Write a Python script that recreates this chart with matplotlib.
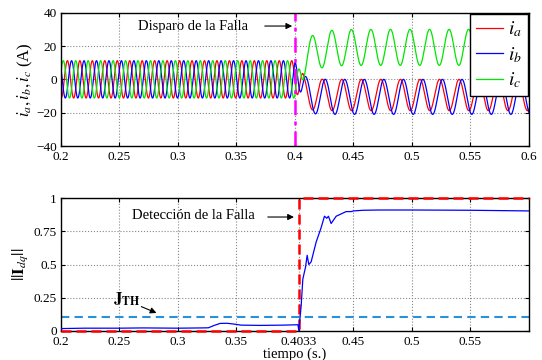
import numpy as np
from matplotlib import pyplot as plt

plt.rcParams['font.family'] = ['Liberation Serif', 'DejaVu Serif']
plt.rcParams['mathtext.fontset'] = 'stix'
plt.rcParams['font.size'] = 9.5

# time axis
t_start = 0.2
t_end = 0.6
t_fault = 0.4
t_detect = 0.4033

# three phase currents: [a, b, c]
pre_amp = [11.2, 11.2, 11.2]
pre_period = 0.01065
pre_peak_a = 0.2055              # first peak of i_a
pre_shift = [0.0, 1.0/3, -1.0/3] # fraction of period

post_period = 0.0167
post_offset = [-9.4, -10.5, 19.2]
post_amp = [9.4, 10.5, 10.8]
post_peak = [0.4150 - 0.0167/2, 0.4175 - 0.0167/2, 0.4148]  # times of maxima
post_tau = [0.005, 0.005, 0.009]

colors = ['red', 'blue', '#00e600']
labels = [r'$i_a$', r'$i_b$', r'$i_c$']

# ||I_dq|| curve
idq_t = [0.2, 0.22, 0.25, 0.27, 0.30, 0.32, 0.326, 0.331, 0.336, 0.342, 0.348, 0.354,
         0.37, 0.39, 0.4025, 0.4033, 0.4053, 0.4067, 0.409, 0.4104, 0.4118, 0.4138,
         0.4181, 0.4224, 0.4252, 0.4272, 0.4286, 0.4309, 0.4352, 0.4437, 0.448,
         0.45, 0.458, 0.472, 0.50, 0.55, 0.6]
idq_v = [0.016, 0.019, 0.019, 0.021, 0.019, 0.021, 0.022, 0.04, 0.055, 0.056, 0.05, 0.042,
         0.04, 0.042, 0.045, 0.0, 0.19, 0.39, 0.48, 0.57, 0.50, 0.52,
         0.67, 0.78, 0.865, 0.85, 0.865, 0.81, 0.865, 0.90, 0.90,
         0.905, 0.91, 0.912, 0.912, 0.91, 0.905]
j_th = 0.1
detect_t = [t_start, t_detect, t_detect, t_end]
detect_v = [0, 0, 1, 1]

t = np.linspace(t_start, t_end, 6000)

fig = plt.figure(figsize=(5.42, 3.6), dpi=100)
ax1 = fig.add_axes([0.1125, 0.5944, 0.8635, 0.3703])
ax2 = fig.add_axes([0.1125, 0.0814, 0.8635, 0.3676])

w1 = 2*np.pi/pre_period
w2 = 2*np.pi/post_period
blend = np.clip((t - t_fault)/0.008, 0, 1)
for k in range(3):
    pre = pre_amp[k]*np.cos(w1*(t - pre_peak_a) - 2*np.pi*pre_shift[k])
    dt = np.clip(t - t_fault, 0, None)
    off = post_offset[k]*(1 - np.exp(-dt/post_tau[k]))
    post = off + post_amp[k]*np.cos(w2*(t - post_peak[k]))
    y = (1 - blend)*pre + blend*post
    ax1.plot(t, y, color=colors[k], lw=0.9, label=labels[k])

ax1.axvline(t_fault, color='magenta', lw=1.8, ls='-.', dashes=(6, 2.5, 1.5, 2.5))
ax1.set_xlim(t_start, t_end)
ax1.set_ylim(-40, 40)
ax1.set_xticks(np.arange(0.2, 0.601, 0.05))
ax1.set_xticklabels(['0.2', '0.25', '0.3', '0.35', '0.4', '0.45', '0.5', '0.55', '0.6'])
ax1.set_yticks([-40, -20, 0, 20, 40])
ax1.set_yticklabels(['\u221240', '\u221220', '0', '20', '40'])
ax1.set_ylabel(r'$i_a, i_b, i_c$ (A)', fontsize=12, labelpad=1)
ax1.annotate('', xy=(0.4, 32), xytext=(0.3718, 32),
             arrowprops=dict(arrowstyle='-|>', color='k', lw=0.8, mutation_scale=9))
ax1.text(0.3128, 32, 'Disparo de la Falla', ha='center', va='center', fontsize=10.5)
leg = ax1.legend(loc='upper right', borderaxespad=0.05, fancybox=False, fontsize=14,
                 handlelength=1.4, labelspacing=0.3, borderpad=0.3, handletextpad=0.25)
leg.get_frame().set_edgecolor('k')
leg.get_frame().set_linewidth(1.0)
leg.get_frame().set_alpha(1)

ax2.plot(detect_t, detect_v, color='red', lw=1.8, ls='--', dashes=(4, 2), clip_on=False, zorder=4)
ax2.axhline(j_th, color='#2a90d8', lw=1.5, ls='--', dashes=(4, 2.5))
ax2.plot(idq_t, idq_v, color='blue', lw=0.9, zorder=5)
ax2.set_xlim(t_start, t_end)
ax2.set_ylim(0, 1)
ax2.set_xticks([0.2, 0.25, 0.3, 0.35, 0.4033, 0.45, 0.5, 0.55])
ax2.set_xticklabels(['0.2', '0.25', '0.3', '0.35', '0.4033', '0.45', '0.5', '0.55'])
ax2.set_yticks([0, 0.25, 0.5, 0.75, 1])
ax2.set_yticklabels(['0', '0.25', '0.5', '0.75', '1'])
ax2.set_ylabel(r'$||\mathbf{I}_{dq}||$', fontsize=12, labelpad=3)
ax2.set_xlabel('tiempo (s.)', fontsize=10.5, labelpad=0)
ax2.annotate('', xy=(0.4015, 0.859), xytext=(0.3744, 0.859),
             arrowprops=dict(arrowstyle='-|>', color='k', lw=0.8, mutation_scale=9))
ax2.text(0.3128, 0.874, 'Detecci\u00f3n de la Falla', ha='center', va='center', fontsize=10.5)
ax2.text(0.2445, 0.235, r'$\mathbf{J}_{\mathbf{TH}}$', ha='left', va='center', fontsize=12)
ax2.annotate('', xy=(0.2838, 0.126), xytext=(0.2665, 0.19),
             arrowprops=dict(arrowstyle='-|>', color='k', lw=0.8, mutation_scale=9))

for ax in (ax1, ax2):
    ax.grid(True, ls=':', color='#888888', lw=0.8)
    ax.tick_params(direction='in', top=True, right=True, length=3)
    ax.tick_params(axis='x', pad=3.5)
    ax.tick_params(axis='y', pad=3)
    for s in ax.spines.values():
        s.set_linewidth(1.0)

plt.savefig('out.png')
